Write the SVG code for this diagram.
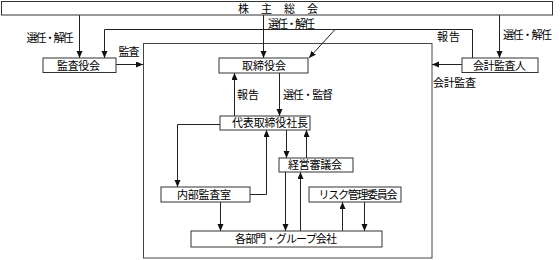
<svg xmlns="http://www.w3.org/2000/svg" width="560" height="260" viewBox="0 0 560 260">
<style>
.box{fill:#fff;stroke:#333;stroke-width:1}
.frame{fill:none;stroke:#444;stroke-width:1}
.t{font-family:"Noto Sans CJK JP","Noto Sans CJK SC",sans-serif;font-size:11px;fill:#000;text-anchor:middle}
.l{font-family:"Noto Sans CJK JP","Noto Sans CJK SC",sans-serif;font-size:11px;fill:#000;text-anchor:middle}
.c{fill:none;stroke:#222;stroke-width:1}
</style>
<defs>
<marker id="ah" markerUnits="userSpaceOnUse" markerWidth="8" markerHeight="8" refX="7" refY="3" orient="auto">
<path d="M0,0 L7,3 L0,6 z" fill="#111"/>
</marker>
</defs>
<rect width="560" height="260" fill="#fff"/>
<rect class="frame" x="143.5" y="43.5" width="288.5" height="214.5"/>

<g id="connectors">
<path class="c" d="M79.5,15 V58" marker-end="url(#ah)"/>
<path class="c" d="M472.5,58 V29.5 H104.5 V58" marker-end="url(#ah)"/>
<path class="c" d="M263.5,15 V58" marker-end="url(#ah)"/>
<path class="c" d="M335,29.5 L309,58" marker-end="url(#ah)"/>
<path class="c" d="M499.5,15 V58" marker-end="url(#ah)"/>
<path class="c" d="M116,64.5 H143" marker-end="url(#ah)"/>
<path class="c" d="M462,64.5 H432" marker-end="url(#ah)"/>
<path class="c" d="M234.5,116 V73" marker-end="url(#ah)"/>
<path class="c" d="M279.5,73 V116" marker-end="url(#ah)"/>
<path class="c" d="M220,124.5 H177.5 V187" marker-end="url(#ah)"/>
<path class="c" d="M250,194.5 H266.5 V130" marker-end="url(#ah)"/>
<path class="c" d="M286.5,130 V158" marker-end="url(#ah)"/>
<path class="c" d="M306.5,158 V130" marker-end="url(#ah)"/>
<path class="c" d="M285.5,172 V231" marker-end="url(#ah)"/>
<path class="c" d="M300.5,231 V172" marker-end="url(#ah)"/>
<path class="c" d="M220.5,202 V231" marker-end="url(#ah)"/>
<path class="c" d="M342.5,231 V202" marker-end="url(#ah)"/>
<path class="c" d="M364.5,202 V231" marker-end="url(#ah)"/>
<text class="l" x="50" y="42" textLength="47">選任・解任</text>
<text class="l" x="129" y="56" textLength="21">監査</text>
<text class="l" x="291.5" y="27.5" textLength="47">選任・解任</text>
<text class="l" x="448.5" y="40.5" textLength="23">報告</text>
<text class="l" x="527.5" y="39" textLength="49">選任・解任</text>
<text class="l" x="454.5" y="87" textLength="43">会計監査</text>
<text class="l" x="248" y="99" textLength="22">報告</text>
<text class="l" x="308" y="99" textLength="50">選任・監督</text>
</g>

<g id="shareholders">
<rect class="box" x="1.5" y="1.5" width="551" height="13.5"/>
<text class="t" style="text-anchor:start" x="238 261 284 307" y="12.5">株主総会</text>
</g>
<g id="kansayakukai">
<rect class="box" x="43" y="58" width="73" height="14.5"/>
<text class="t" x="78.5" y="69.5" textLength="43">監査役会</text>
</g>
<g id="torishimariyakukai">
<rect class="box" x="219" y="58" width="89" height="15"/>
<text class="t" x="264" y="69.5" textLength="44">取締役会</text>
</g>
<g id="kaikeikansanin">
<rect class="box" x="462" y="58" width="76" height="14.5"/>
<text class="t" x="499.5" y="69.5" textLength="53">会計監査人</text>
</g>
<g id="daihyo">
<rect class="box" x="220" y="116" width="90" height="14"/>
<text class="t" x="270" y="127" textLength="76">代表取締役社長</text>
</g>
<g id="keiei">
<rect class="box" x="279" y="158" width="74" height="14"/>
<text class="t" x="315" y="169" textLength="54">経営審議会</text>
</g>
<g id="naibukansa">
<rect class="box" x="161" y="187" width="89" height="15"/>
<text class="t" x="204" y="198.5" textLength="54">内部監査室</text>
</g>
<g id="risk">
<rect class="box" x="309" y="187" width="92" height="15"/>
<text class="t" x="358" y="198.5" textLength="79">リスク管理委員会</text>
</g>
<g id="kakubumon">
<rect class="box" x="191" y="231" width="191" height="16"/>
<text class="t" x="286" y="243" textLength="102">各部門・グループ会社</text>
</g>
</svg>
